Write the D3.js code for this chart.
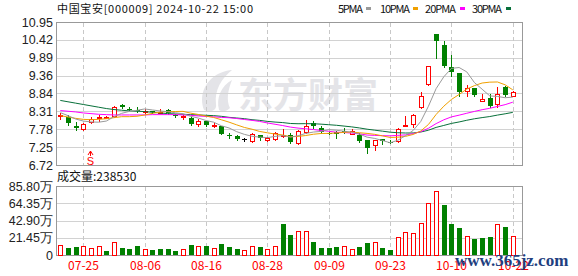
<!DOCTYPE html>
<html>
<head>
<meta charset="utf-8">
<title>中国宝安 日K</title>
<style>
  body { margin: 0; background: #fff; }
  svg { display: block; background: #fff; }
  .grid { stroke: #d2d2d2; shape-rendering: crispEdges; }
  .vgrid { stroke: #c8c8c8; stroke-dasharray: 4,3; shape-rendering: crispEdges; }
  .frame { fill: none; stroke: #999; shape-rendering: crispEdges; }
  .lbl { font-family: "Liberation Sans", Arial, sans-serif; font-size: 12.5px; fill: #222; }
  .cjk { font-family: "Noto Sans CJK SC", sans-serif; font-size: 12px; fill: #111; }
  .top { font-family: "Noto Sans CJK SC", sans-serif; font-size: 11px; fill: #111; }
  .ma { fill: none; stroke-width: 1; }
</style>
</head>
<body>
<svg width="578" height="276"></svg>
<script src="https://d3js.org/d3.v7.min.js"></script>
<script>
// trading days shown
var dates = ["07-22","07-23","07-24","07-25","07-26","07-29","07-30","07-31","08-01","08-02",
  "08-05","08-06","08-07","08-08","08-09","08-12","08-13","08-14","08-15","08-16",
  "08-19","08-20","08-21","08-22","08-23","08-26","08-27","08-28","08-29","08-30",
  "09-02","09-03","09-04","09-05","09-06","09-09","09-10","09-11","09-12","09-13",
  "09-18","09-19","09-20","09-23","09-24","09-25","09-26","09-27","09-30","10-08",
  "10-09","10-10","10-11","10-14","10-15","10-16","10-17","10-18","10-21","10-22"];
var dateTicks = ["07-25","08-06","08-16","08-28","09-09","09-23","10-10","10-22"];

var open  = [8.17,8.13,7.88,7.79,8.00,8.11,8.12,8.16,8.50,8.39, 8.36,8.30,8.31,8.27,8.34,8.20,8.15,8.12,7.93,8.01,
             7.89,7.86,7.62,7.59,7.49,7.42,7.61,7.45,7.48,7.59, 7.62,7.37,7.69,7.95,7.82,7.67,7.70,7.74,7.65,7.62,
             7.45,7.30,7.48,7.41,7.42,7.88,7.92,8.43,9.12,10.60, 10.27,9.61,9.43,8.92,9.00,8.62,8.70,8.53,9.03,8.77];
var high  = [8.27,8.19,7.99,7.95,8.13,8.20,8.18,8.47,8.53,8.45, 8.45,8.38,8.32,8.37,8.39,8.23,8.21,8.13,8.07,8.03,
             7.97,7.88,7.66,7.60,7.53,7.67,7.62,7.56,7.69,7.79, 7.66,7.75,8.04,8.03,7.86,7.70,7.72,7.80,7.78,7.66,
             7.47,7.47,7.49,7.45,7.80,8.18,8.22,8.88,9.64,10.60, 10.40,9.97,9.45,9.09,9.01,8.81,8.83,9.04,9.05,8.91];
var low   = [8.09,7.91,7.76,7.76,7.96,8.01,8.10,8.14,8.42,8.34, 8.29,8.27,8.27,8.25,8.24,8.15,8.09,7.90,7.88,7.86,
             7.84,7.63,7.52,7.46,7.44,7.40,7.45,7.42,7.46,7.54, 7.37,7.35,7.66,7.80,7.67,7.63,7.51,7.66,7.63,7.39,
             7.08,7.16,7.34,7.36,7.40,7.88,7.85,8.42,9.10,9.89, 9.61,9.35,8.77,8.77,8.77,8.60,8.45,8.45,8.77,8.75];
var close = [8.19,7.96,7.81,7.93,8.08,8.15,8.13,8.45,8.43,8.37, 8.31,8.33,8.30,8.29,8.25,8.16,8.18,7.92,8.03,7.89,
             7.91,7.65,7.60,7.48,7.49,7.63,7.52,7.53,7.66,7.61, 7.40,7.73,7.87,7.86,7.71,7.66,7.64,7.72,7.73,7.42,
             7.21,7.45,7.42,7.39,7.78,7.90,8.21,8.76,9.64,10.38, 9.65,9.46,8.89,8.99,8.80,8.67,8.47,8.81,8.80,8.89];
// volume in 万手
var volume = [12.4,9.1,9.9,10.8,8.3,10.8,5.4,15.8,8.7,7.5, 11.2,7.5,6.2,7.5,7.5,5.4,7.5,12.4,10.8,11.2,
              8.3,13.7,9.9,7.5,6.2,10.8,9.9,7.5,11.2,38.5, 24.9,29.8,29.8,16.6,8.7,8.7,9.9,11.2,7.0,9.9,
              14.9,16.2,8.7,6.2,22.0,28.6,27.4,39.4,64.3,79.2, 62.2,38.5,33.6,23.2,19.9,21.1,22.4,38.5,34.8,23.853];

// moving-average values before a full window is available
var ma5Head  = [8.27,8.18,8.08,8.02];
var ma10Head = [8.18,8.14,8.10,8.07,8.06,8.07,8.09,8.12,8.15];
var ma20Head = [8.33,8.31,8.29,8.26,8.24,8.22,8.21,8.20,8.20,8.20,8.20,8.20,8.21,8.21,8.21,8.21,8.20,8.19,8.17];
var ma30Head = [8.63,8.59,8.55,8.51,8.47,8.43,8.39,8.36,8.34,8.32,8.31,8.30,8.28,8.26,8.24,8.23,8.22,8.21,8.20,8.19,
                8.18,8.16,8.13,8.11,8.09,8.06,8.04,8.01,7.99];

var priceTicks = [10.95,10.42,9.89,9.36,8.84,8.31,7.78,7.25,6.72];
var volTicks = [85.80,64.35,42.90,21.45,0];
var volTickLabels = ["85.80万","64.35万","42.90万","21.45万","0"];
var maNames = ["5PMA","10PMA","20PMA","30PMA"];
var maColors = ["#9a9a9a","#f0a000","#ff00ff","#08703a"];

var svg = d3.select("svg");
var left = 56, right = 522, pTop = 22, pBot = 165, vTop = 186, vBot = 255;

var x = d3.scalePoint().domain(dates).range([60.3, 512.8]);
var y = d3.scaleLinear().domain([6.72, 10.95]).range([pBot, pTop]);
var yv = d3.scaleLinear().domain([0, 85.8]).range([vBot, vTop]);
function cx(d) { return Math.round(x(d)); }

// watermark
var wm = svg.append("g").attr("fill", "#e4e4e8");
wm.append("path").attr("d", "M204,110 C199,96 204,82 218,74 C226,70 232,70 232,70 C222,78 214,90 216,104 C217,110 212,113 204,110 Z");
wm.append("path").attr("d", "M219,110 C216,98 221,86 232,80 C228,90 226,100 230,108 C226,112 222,112 219,110 Z");
wm.append("text").attr("x", 238).attr("y", 108)
  .style("font-family", "'Noto Sans CJK SC'").style("font-weight", "bold").style("font-size", "35px")
  .attr("textLength", 140).text("东方财富");

// grid lines
svg.selectAll(".pg").data(priceTicks.slice(1, -1)).enter().append("line")
  .attr("class", "grid").attr("x1", left).attr("x2", right)
  .attr("y1", function(d) { return Math.round(y(d)) + 0.5; })
  .attr("y2", function(d) { return Math.round(y(d)) + 0.5; });
svg.selectAll(".vg").data(volTicks.slice(1, -1)).enter().append("line")
  .attr("class", "grid").attr("x1", left).attr("x2", right)
  .attr("y1", function(d) { return Math.round(yv(d)) + 0.5; })
  .attr("y2", function(d) { return Math.round(yv(d)) + 0.5; });
[[pTop, pBot], [vTop, vBot]].forEach(function(r) {
  svg.selectAll(null).data(dateTicks).enter().append("line")
    .attr("class", "vgrid")
    .attr("x1", function(d) { return cx(d) + 0.5; })
    .attr("x2", function(d) { return cx(d) + 0.5; })
    .attr("y1", r[0] + 1).attr("y2", r[1]);
});

// frames
svg.append("rect").attr("class", "frame").attr("x", left + 0.5).attr("y", pTop + 0.5)
  .attr("width", right - left).attr("height", pBot - pTop);
svg.append("rect").attr("class", "frame").attr("x", left + 0.5).attr("y", vTop + 0.5)
  .attr("width", right - left).attr("height", vBot - vTop);

// axis labels
svg.selectAll(".pl").data(priceTicks).enter().append("text")
  .attr("class", "lbl").attr("x", 53).attr("y", function(d) { return y(d); })
  .attr("dy", "0.36em").attr("text-anchor", "end")
  .text(function(d) { return d.toFixed(2); });
svg.selectAll(".vl").data(volTicks).enter().append("text")
  .attr("class", "lbl").attr("x", 53).attr("y", function(d) { return yv(d); })
  .attr("dy", "0.36em").attr("text-anchor", "end")
  .text(function(d, i) { return volTickLabels[i]; });
svg.selectAll(".dl").data(dateTicks).enter().append("text")
  .attr("class", "cjk").attr("x", function(d) { return cx(d) + 0.5; }).attr("y", 270)
  .attr("text-anchor", "middle").style("fill", "#f00")
  .text(function(d) { return d; });

// candles
var idx = d3.range(dates.length);
var candle = svg.append("g").selectAll("g").data(idx).enter().append("g");
function cColor(i) { return close[i] > open[i] ? "#f00" : close[i] < open[i] ? "#008000" : "#000"; }
candle.append("line")
  .attr("x1", function(i) { return cx(dates[i]) + 0.5; })
  .attr("x2", function(i) { return cx(dates[i]) + 0.5; })
  .attr("y1", function(i) { return Math.round(y(high[i])); })
  .attr("y2", function(i) { return Math.round(y(low[i])) + 1; })
  .attr("stroke", cColor).attr("shape-rendering", "crispEdges");
candle.append("rect")
  .attr("x", function(i) { return close[i] > open[i] ? cx(dates[i]) - 1.5 : cx(dates[i]) - 2; })
  .attr("y", function(i) {
    var t = Math.round(y(Math.max(open[i], close[i])));
    return close[i] > open[i] ? t + 0.5 : t;
  })
  .attr("width", function(i) { return close[i] > open[i] ? 4 : 5; })
  .attr("height", function(i) {
    var h = Math.round(y(Math.min(open[i], close[i]))) - Math.round(y(Math.max(open[i], close[i])));
    return Math.max(h, 1);
  })
  .attr("fill", function(i) { return close[i] > open[i] ? "#fff" : cColor(i); })
  .attr("stroke", function(i) { return close[i] > open[i] ? "#f00" : "none"; })
  .attr("shape-rendering", "crispEdges");

// volume bars, coloured against previous close
function vUp(i) { return i === 0 ? close[0] >= open[0] : close[i] >= close[i - 1]; }
svg.append("g").selectAll("rect").data(idx).enter().append("rect")
  .attr("x", function(i) { return vUp(i) ? cx(dates[i]) - 1.5 : cx(dates[i]) - 2; })
  .attr("y", function(i) { return Math.round(yv(volume[i])) + (vUp(i) ? 0.5 : 0); })
  .attr("width", function(i) { return vUp(i) ? 4 : 5; })
  .attr("height", function(i) { return vBot - Math.round(yv(volume[i])) - (vUp(i) ? 0.5 : 0); })
  .attr("fill", function(i) { return vUp(i) ? "#fff" : "#008000"; })
  .attr("stroke", function(i) { return vUp(i) ? "#f00" : "none"; })
  .attr("shape-rendering", "crispEdges");

// moving averages
function movingAvg(n, head) {
  return close.map(function(c, i) {
    return i < n - 1 ? head[i] : d3.mean(close.slice(i - n + 1, i + 1));
  });
}
var maSeries = [movingAvg(5, ma5Head), movingAvg(10, ma10Head), movingAvg(20, ma20Head), movingAvg(30, ma30Head)];
var line = d3.line().x(function(d, i) { return x(dates[i]); }).y(function(d) { return y(d); });
maSeries.slice().reverse().forEach(function(s, k) {
  svg.append("path").attr("class", "ma").attr("d", line(s)).attr("stroke", maColors[3 - k]);
});

// S marker
var sx = cx(dates[4]) - 0.5;
svg.append("path").attr("d", "M" + (sx - 2.5) + ",155 L" + sx + ",151 L" + (sx + 2.5) + ",155 M" + sx + ",151 L" + sx + ",156")
  .attr("stroke", "#f00").attr("fill", "none");
svg.append("text").attr("x", sx).attr("y", 165).attr("text-anchor", "middle")
  .style("font-family", "'Liberation Sans', Arial").style("font-size", "11px").style("fill", "#f00").text("S");

// header and legend
svg.append("text").attr("class", "top").attr("x", 57).attr("y", 13)
  .attr("textLength", 196).text("中国宝安[000009] 2024-10-22 15:00");
var legX = [338, 380, 425, 472], legW = [25, 30, 31, 30], legBox = [366, 413, 460, 506];
maNames.forEach(function(n, i) {
  svg.append("text").attr("class", "top").attr("x", legX[i]).attr("y", 13)
    .attr("textLength", legW[i]).text(n);
  svg.append("rect").attr("x", legBox[i]).attr("y", 7).attr("width", 5).attr("height", 3).attr("fill", maColors[i]);
});
svg.append("text").attr("class", "cjk").attr("x", 57).attr("y", 181).text("成交量:238530");

// site mark
svg.append("text").attr("x", 455).attr("y", 266)
  .style("font-family", "'Liberation Serif', serif").style("font-size", "17px").style("font-weight", "bold")
  .style("fill", "#1f3f7f").text("www.365jz.com");
</script>
</body>
</html>
